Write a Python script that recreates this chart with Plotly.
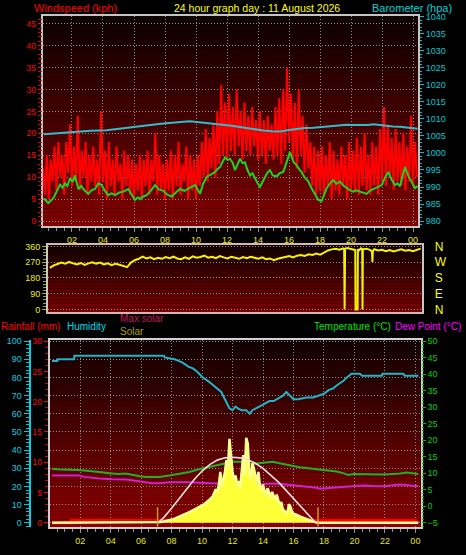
import pandas as pd
import plotly.graph_objects as go

BASE = pd.Timestamp("2026-08-11 00:00")


def at(hours):
    return [BASE + pd.Timedelta(hours=h) for h in hours]


title_text = "24 hour graph day : 11 August 2026"

# ---------------- wind gust (kph), one reading every 7.5 minutes ----------------
gust_start_hour = 0.125
gust_step_hour = 0.125
wind_gust_kph = [
    12, 6, 15, 5, 14, 9, 17, 7, 18, 10, 15, 6, 18, 11, 22, 8,
    17, 9, 24, 7, 16, 10, 18, 6, 15, 9, 17, 8, 14, 6, 25, 9,
    16, 5, 18, 8, 14, 6, 17, 9, 13, 5, 16, 8, 15, 6, 14, 5,
    13, 7, 15, 5, 14, 8, 16, 6, 14, 9, 20, 6, 15, 7, 13, 5,
    14, 7, 16, 5, 15, 8, 18, 6, 13, 9, 17, 5, 15, 7, 14, 5,
    15, 8, 18, 10, 21, 9, 19, 12, 22, 10, 25, 13, 31, 15, 27, 14,
    29, 16, 26, 15, 30, 17, 25, 14, 27, 16, 24, 15, 26, 17, 23, 14,
    25, 15, 23, 13, 24, 16, 22, 14, 26, 15, 28, 13, 30, 16, 35, 18,
    29, 14, 27, 12, 30, 15, 24, 11, 22, 12, 18, 8, 17, 6, 16, 7,
    17, 6, 15, 8, 18, 5, 16, 7, 14, 6, 17, 8, 15, 5, 18, 7,
    16, 7, 19, 6, 17, 8, 20, 7, 15, 6, 18, 8, 17, 6, 21, 9,
    26, 8, 22, 10, 19, 7, 21, 9, 18, 8, 20, 7, 17, 9, 24, 8,
    18, 10,
]
gust_hours = [gust_start_hour + i * gust_step_hour for i in range(len(wind_gust_kph))]

# ---------------- average wind speed (kph) ----------------
avg_wind_hours = [
    0.19, 0.47, 0.8, 1.0, 1.23, 1.4, 1.55, 1.7, 1.87, 2.05, 2.19, 2.41, 2.6, 2.73, 2.9, 3.05,
    3.25, 3.48, 3.7, 3.91, 4.1, 4.34, 4.55, 4.77, 5.05, 5.31, 5.63, 5.85, 6.06, 6.25, 6.39, 6.6,
    6.82, 7.1, 7.35, 7.6, 7.89, 8.15, 8.43, 8.7, 8.97, 9.25, 9.5, 9.7, 9.94, 10.1, 10.26, 10.45,
    10.69, 10.95, 11.23, 11.4, 11.55, 11.7, 11.87, 12.05, 12.19, 12.35, 12.52, 12.7, 12.84, 13.0,
    13.16, 13.3, 13.48, 13.65, 13.81, 13.97, 14.13, 14.3, 14.45, 14.6, 14.77, 14.95, 15.2, 15.4,
    15.63, 15.85, 16.06, 16.3, 16.5, 16.65, 16.8, 17.0, 17.25, 17.4, 17.57, 17.75, 17.89, 18.1,
    18.25, 18.43, 18.65, 18.86, 19.05, 19.29, 19.5, 19.72, 19.95, 20.15, 20.35, 20.58, 20.8,
    21.01, 21.2, 21.44, 21.7, 21.98, 22.2, 22.41, 22.6, 22.84, 23.0, 23.16, 23.3, 23.48, 23.7,
    23.92, 24.13, 24.3,
]
avg_wind_kph = [
    5.2, 4.1, 5.2, 6.8, 8.3, 7.6, 8.6, 8.0, 9.7, 8.9, 10.4, 7.3, 8.0, 7.3, 6.6, 6.2,
    7.0, 7.3, 8.6, 8.2, 7.0, 5.9, 6.3, 5.9, 6.5, 6.7, 7.3, 6.0, 4.8, 5.4, 5.0, 5.6,
    5.9, 7.0, 8.2, 7.2, 6.9, 6.0, 5.6, 6.5, 7.3, 6.9, 7.3, 7.8, 8.2, 7.0, 6.2, 8.4,
    10.1, 10.6, 11.2, 11.9, 12.3, 13.4, 14.5, 13.9, 14.2, 13.4, 11.6, 13.1, 14.2, 13.2,
    13.4, 11.8, 10.4, 10.9, 9.7, 8.6, 7.8, 9.2, 10.0, 11.0, 11.6, 10.4, 10.2, 10.9,
    11.2, 13.5, 15.7, 13.4, 12.7, 11.8, 11.2, 10.0, 9.0, 7.8, 6.7, 5.6, 4.8, 4.5,
    6.0, 7.5, 8.6, 9.3, 8.5, 9.0, 8.1, 7.5, 7.0, 6.7, 7.0, 6.7, 6.4,
    6.2, 6.9, 7.3, 7.8, 8.2, 10.0, 11.2, 9.5, 8.2, 8.6, 7.9, 10.0, 12.3, 10.3,
    8.9, 7.5, 8.0,
]

# ---------------- barometer (hPa) ----------------
baro_hours = [
    0.19, 1.0, 2.09, 3.2, 4.24, 5.1, 5.96, 6.7, 7.46, 8.1, 8.75, 9.2, 9.61, 10.2, 10.69,
    11.2, 11.76, 12.3, 12.84, 13.27, 13.8, 14.34, 14.9, 15.42, 15.9, 16.5, 17.0, 17.57,
    18.1, 18.65, 19.2, 19.72, 20.3, 20.8, 21.1, 21.44, 21.9, 22.3, 22.7, 23.16, 23.6, 24.13, 24.3,
]
baro_hpa = [
    1005.5, 1005.8, 1006.3, 1006.5, 1006.7, 1007.2, 1007.7, 1008.0, 1008.4, 1008.7, 1009.1,
    1009.2, 1009.3, 1009.0, 1008.8, 1008.6, 1008.4, 1008.0, 1007.6, 1007.3, 1006.9, 1006.6,
    1006.4, 1006.3, 1006.7, 1007.1, 1007.3, 1007.4, 1007.6, 1007.9, 1008.1, 1008.3, 1008.2,
    1008.1, 1008.2, 1008.4, 1008.1, 1007.9, 1007.8, 1007.7, 1007.4, 1007.1, 1007.1,
]

# ---------------- wind direction (degrees) ----------------
dir_hours = [
    0.25, 0.5, 0.75, 1.0, 1.25, 1.5, 1.75, 2.0, 2.25, 2.5, 2.75, 3.0, 3.25, 3.5, 3.75, 4.0,
    4.25, 4.5, 4.75, 5.0, 5.25, 5.5, 5.75, 6.0, 6.25, 6.5, 6.75, 7.0, 7.25, 7.5, 7.75, 8.0,
    8.25, 8.5, 8.75, 9.0, 9.25, 9.5, 9.75, 10.0, 10.25, 10.5, 10.75, 11.0, 11.25, 11.5, 11.75,
    12.0, 12.25, 12.5, 12.75, 13.0, 13.25, 13.5, 13.75, 14.0, 14.25, 14.5, 14.75, 15.0, 15.25,
    15.5, 15.75, 16.0, 16.25, 16.5, 16.75, 17.0, 17.25, 17.5, 17.75, 18.0, 18.25, 18.5, 18.75,
    19.0, 19.25, 19.30, 19.33, 19.36, 19.5, 19.75, 20.02, 20.04, 20.17, 20.19, 20.25, 20.4,
    20.47, 20.49, 20.51, 20.75, 21.0, 21.1, 21.13, 21.16, 21.25, 21.5, 21.75, 22.0, 22.25,
    22.5, 22.75, 23.0, 23.25, 23.5, 23.75, 24.0, 24.25,
]
dir_deg = [
    238, 252, 260, 268, 262, 272, 264, 258, 266, 255, 264, 270, 262, 268, 258, 264,
    254, 262, 256, 250, 242, 268, 282, 290, 302, 292, 298, 288, 296, 290, 300, 294,
    302, 292, 288, 298, 290, 304, 296, 300, 308, 296, 302, 294, 306, 298, 292,
    302, 296, 290, 300, 294, 302, 296, 290, 298, 288, 292, 282, 290, 296,
    300, 306, 298, 308, 312, 306, 316, 312, 320, 314, 326, 338, 344, 348,
    342, 350, 346, 0, 348, 352, 346, 340, 0, 0, 345, 338, 350,
    346, 0, 344, 348, 340, 330, 272, 335, 345, 338, 342, 334, 340,
    332, 338, 344, 336, 340, 334, 342, 348,
]
compass_deg = [0, 90, 180, 270, 360]
compass_text = ["N", "E", "S", "W", "N"]

# ---------------- humidity (%) ----------------
hum_hours = [
    0.15, 0.5, 0.52, 1.6, 1.62, 7.5, 7.55, 8.2, 8.5, 8.75, 9.1, 9.4, 9.7, 10.05, 10.4, 10.7,
    11.0, 11.26, 11.5, 11.8, 12.0, 12.2, 12.35, 12.6, 12.9, 13.12, 13.3, 13.56, 13.8, 14.0,
    14.2, 14.43, 14.7, 14.88, 15.1, 15.31, 15.53, 15.75, 16.0, 16.3, 16.85, 17.3, 17.72, 18.0,
    18.3, 18.6, 18.9, 19.26, 19.5, 19.81, 20.36, 20.5, 21.8, 21.85, 23.2, 23.3, 24.2,
]
hum_pct = [
    89, 89, 90, 90, 92, 92, 91, 90, 89, 88, 86, 85, 83, 80, 78, 76,
    74, 72, 68, 63, 62, 64, 63, 62, 62, 60, 62, 63, 64, 65,
    66, 67, 67, 68, 69, 70, 72, 70, 68, 68, 69, 69, 70, 71,
    73, 74, 76, 78, 80, 82, 82, 81, 81, 82, 82, 81, 81,
]

# ---------------- temperature & dew point (deg C) ----------------
temp_hours = [
    0.15, 0.8, 1.93, 2.5, 2.92, 3.4, 3.91, 4.5, 5.0, 5.44, 5.9, 6.32, 7.2, 7.86, 8.5, 9.17,
    9.8, 10.49, 11.0, 11.36, 11.7, 12.02, 12.4, 12.68, 13.0, 13.34, 13.7, 13.99, 14.3, 14.65,
    15.0, 15.31, 15.8, 16.19, 16.41, 17.0, 17.51, 17.72, 18.2, 18.6, 18.82, 19.26, 19.6, 19.91,
    20.5, 21.2, 21.89, 22.5, 23.0, 23.43, 23.8, 24.19,
]
temp_c = [
    11.4, 11.1, 11.0, 10.8, 10.5, 10.3, 10.0, 9.8, 9.9, 9.4, 9.1, 8.9, 8.9, 9.3, 9.8, 10.4,
    11.2, 12.0, 12.4, 12.8, 13.2, 13.5, 13.4, 13.5, 13.0, 12.8, 13.0, 13.2, 13.3, 13.5,
    13.1, 12.8, 12.4, 12.0, 11.8, 11.5, 11.2, 11.05, 10.8, 10.7, 10.5, 10.05, 9.5, 9.75,
    9.7, 9.6, 9.6, 9.8, 9.9, 10.25, 10.0, 9.8,
]
dew_hours = [
    0.15, 1.93, 2.26, 3.25, 4.11, 5.0, 5.5, 5.88, 6.74, 7.2, 7.86, 9.17, 10.49, 11.2, 11.8,
    12.3, 12.9, 13.3, 13.78, 14.3, 14.88, 15.5, 16.19, 16.8, 17.51, 17.72, 18.2, 18.6, 19.2,
    19.7, 20.3, 20.8, 21.3, 21.89, 22.5, 23.0, 23.5, 24.19,
]
dew_c = [
    9.3, 9.3, 8.9, 8.4, 8.2, 8.1, 7.8, 7.5, 7.0, 7.0, 7.3, 7.3, 7.1, 6.8, 6.3,
    6.6, 6.1, 6.4, 6.6, 6.8, 6.9, 6.6, 6.3, 5.9, 5.6, 5.3, 5.5, 5.6, 5.8,
    6.1, 6.2, 6.3, 6.1, 6.1, 6.4, 6.6, 6.4, 6.1,
]

# ---------------- rainfall (mm) ----------------
rain_hours = [0.15, 1.38, 1.42, 24.1]
rain_mm = [0.0, 0.0, 0.4, 0.4]

# ---------------- solar radiation (W/m2) ----------------
solar_night_hours = [0.15, 24.2]
solar_start_hour = 7.0
solar_step_hour = 0.1
solar_wm2 = [
    0, 2, 5, 8, 12, 15, 18, 22, 26, 30,
    35, 40, 45, 52, 58, 65, 72, 80, 88, 95,
    105, 112, 120, 130, 138, 146, 155, 162, 170, 180,
    190, 200, 212, 225, 240, 258, 275, 290, 330, 370,
    340, 420, 560, 400, 480, 560, 690, 600, 925, 720,
    560, 480, 520, 420, 460, 380, 560, 745, 520, 935,
    870, 560, 480, 655, 600, 520, 440, 560, 400, 360,
    420, 350, 300, 380, 330, 280, 340, 300, 250, 310,
    260, 190, 230, 150, 130, 120, 110, 205, 180, 120,
    100, 95, 90, 80, 72, 65, 58, 50, 42, 36,
    30, 24, 18, 12, 8, 4, 0,
]
solar_day_hours = [solar_start_hour + i * solar_step_hour for i in range(len(solar_wm2))]
solar_hours = [solar_night_hours[0]] + solar_day_hours + [solar_night_hours[1]]
solar_all = [0] + solar_wm2 + [0]

max_solar_hours = [7.1, 7.5, 8.0, 8.5, 9.0, 9.5, 10.0, 10.5, 11.0, 11.5, 12.0, 12.5, 13.0,
                   13.5, 14.0, 14.5, 15.0, 15.5, 16.0, 16.5, 17.0, 17.4, 17.6]
max_solar_wm2 = [0, 60, 160, 270, 380, 480, 570, 640, 690, 715, 722, 715, 695,
                 655, 600, 530, 450, 360, 265, 170, 75, 10, 0]

sun_event_hours = [7.08, 17.61]

# ---------------- styling ----------------
W, H = 466, 555
TICK_FONT = "Liberation Sans Narrow, Liberation Sans, Arial, sans-serif"
LABEL_FONT = "Liberation Sans, Arial, sans-serif"
GRID = dict(showgrid=True, gridcolor="#8c8c8c", gridwidth=1, griddash="1px,2px")
NOGRID = dict(showgrid=False)
HOUR_MS = 3600000


def px_x(p):
    return p / W


def px_y(p):
    return 1 - p / H


fig = go.Figure()

# panel 1: wind & barometer
fig.add_trace(go.Scatter(x=at(gust_hours), y=wind_gust_kph, mode="lines",
                         line=dict(color="#ff0000", width=2), xaxis="x", yaxis="y"))
fig.add_trace(go.Scatter(x=at(avg_wind_hours), y=avg_wind_kph, mode="lines",
                         line=dict(color="#1ed21e", width=2), xaxis="x", yaxis="y"))
fig.add_trace(go.Scatter(x=at(baro_hours), y=baro_hpa, mode="lines",
                         line=dict(color="#30bcc8", width=2), xaxis="x", yaxis="y2"))

# panel 2: wind direction
fig.add_trace(go.Scatter(x=at(dir_hours), y=dir_deg, mode="lines",
                         line=dict(color="#f4f400", width=2), xaxis="x2", yaxis="y3"))
fig.add_trace(go.Scatter(x=at(dir_hours), y=dir_deg, mode="lines", opacity=0,
                         line=dict(width=0), hoverinfo="skip", xaxis="x2", yaxis="y4"))

# panel 3
fig.add_trace(go.Scatter(x=at(solar_hours), y=solar_all, mode="lines", fill="tozeroy",
                         fillcolor="#ffff38", line=dict(color="#ffff90", width=2.5),
                         xaxis="x3", yaxis="y8"))
sun_x, sun_y = [], []
for h in sun_event_hours:
    sun_x += [BASE + pd.Timedelta(hours=h), BASE + pd.Timedelta(hours=h), None]
    sun_y += [-40, 170, None]
fig.add_trace(go.Scatter(x=sun_x, y=sun_y, mode="lines", line=dict(color="#c89a10", width=1.5),
                         xaxis="x3", yaxis="y8"))
fig.add_trace(go.Scatter(x=at(max_solar_hours), y=max_solar_wm2, mode="lines",
                         line=dict(color="#f4dcdc", width=1.6), xaxis="x3", yaxis="y8"))
fig.add_trace(go.Scatter(x=at(rain_hours), y=rain_mm, mode="lines",
                         line=dict(color="#ff0000", width=3), xaxis="x3", yaxis="y6"))
fig.add_trace(go.Scatter(x=at(hum_hours), y=hum_pct, mode="lines",
                         line=dict(color="#20b4c8", width=2), xaxis="x3", yaxis="y5"))
fig.add_trace(go.Scatter(x=at(temp_hours), y=temp_c, mode="lines",
                         line=dict(color="#20b020", width=2), xaxis="x3", yaxis="y7"))
fig.add_trace(go.Scatter(x=at(dew_hours), y=dew_c, mode="lines",
                         line=dict(color="#d020d0", width=2), xaxis="x3", yaxis="y7"))

# gradient backgrounds
shapes = []


def gradient(xref, yref, top, bot, n=48):
    for i in range(n):
        f = i / (n - 1)
        c = tuple(int(round(top[k] + (bot[k] - top[k]) * f)) for k in range(3))
        shapes.append(dict(type="rect", xref=xref, yref=yref, x0=0, x1=1,
                           y0=1 - (i + 1) / n, y1=1 - i / n, layer="below",
                           fillcolor="rgb(%d,%d,%d)" % c, line=dict(width=0)))


gradient("x domain", "y domain", (14, 0, 0), (128, 0, 0))
gradient("x2 domain", "y3 domain", (18, 0, 0), (128, 0, 0))
gradient("x3 domain", "y5 domain", (18, 0, 0), (140, 0, 0))

xtick_common = dict(type="date", tickformat="%H", tick0="2026-08-11", dtick=2 * HOUR_MS,
                    ticks="outside", ticklen=4, tickcolor="#909090",
                    minor=dict(dtick=HOUR_MS / 2, ticks="outside", ticklen=3,
                               tickcolor="#909090", showgrid=False),
                    tickfont=dict(family=TICK_FONT, size=9, color="#e8e800"),
                    zeroline=False)

layout = dict(
    width=W, height=H, margin=dict(l=0, r=0, t=0, b=0),
    paper_bgcolor="black", plot_bgcolor="black", showlegend=False,
    shapes=shapes,
    xaxis=dict(domain=[px_x(43), px_x(418)], anchor="y", range=at([0.13, 24.32]),
               showline=True, linecolor="#c4c4c4", linewidth=2, mirror=True,
               **GRID, **xtick_common),
    yaxis=dict(domain=[px_y(225), px_y(11)], anchor="x", range=[-1.12, 46.79],
               tick0=0, dtick=5, ticks="outside", ticklen=4, tickcolor="#ff0000",
               minor=dict(dtick=1, ticks="outside", ticklen=4, tickcolor="#d00000"),
               tickfont=dict(family=TICK_FONT, size=9, color="#ff0000"),
               zeroline=False, showline=False, **GRID),
    yaxis2=dict(overlaying="y", side="right", anchor="x", range=[978.56, 1040.29],
                tick0=980, dtick=5, ticks="outside", ticklen=4, tickcolor="#00c0c8",
                minor=dict(dtick=1, ticks="outside", ticklen=2, tickcolor="#00c0c8"),
                tickfont=dict(family=TICK_FONT, size=9, color="#00c8d0"),
                showline=True, linecolor="#c4c4c4", linewidth=2, mirror=True,
                zeroline=False, **NOGRID),
    xaxis2=dict(domain=[px_x(48), px_x(421.7)], anchor="y3", type="date",
                range=at([0.13, 24.32]), showticklabels=False, ticks="",
                showline=True, linecolor="#d8b4b4", linewidth=2, mirror=True,
                zeroline=False, **NOGRID),
    yaxis3=dict(domain=[px_y(312.7), px_y(244.3)], anchor="x2", range=[-15.2, 369.6],
                tick0=0, dtick=90, ticks="outside", ticklen=4, tickcolor="#b0b000",
                minor=dict(dtick=18, ticks="outside", ticklen=3, tickcolor="#a0a000"),
                tickfont=dict(family=TICK_FONT, size=9, color="#ecec00"),
                showline=True, linecolor="#c8c8c8", linewidth=2, mirror=True,
                zeroline=False, **GRID),
    yaxis4=dict(overlaying="y3", side="right", anchor="x2", range=[-15.2, 369.6],
                tickmode="array", tickvals=compass_deg, ticktext=compass_text,
                ticks="", ticklabelstandoff=12,
                tickfont=dict(family=LABEL_FONT, size=12, color="#ffff00"),
                showline=False, zeroline=False, **NOGRID),
    xaxis3=dict(domain=[px_x(50), px_x(420.7)], anchor="y6", range=at([0.02, 24.35]),
                showline=True, linecolor="#d0d0d0", linewidth=2, mirror=True,
                **GRID, **xtick_common),
    yaxis5=dict(domain=[px_y(531.7), px_y(340.7)], anchor="free", position=px_x(29.5),
                side="left", range=[-2.38, 100.86], tick0=0, dtick=10,
                ticks="outside", ticklen=5, tickcolor="#00c8d8",
                minor=dict(dtick=2, ticks="outside", ticklen=3, tickcolor="#00c8d8"),
                tickfont=dict(family=TICK_FONT, size=9, color="#00d0e0"),
                showline=True, linecolor="#00d0e0", linewidth=2, zeroline=False, **GRID),
    yaxis6=dict(overlaying="y5", anchor="x3", side="left", range=[-0.71, 30.26],
                tick0=0, dtick=5, ticks="outside", ticklen=4, tickcolor="#ff0000",
                minor=dict(dtick=1, ticks="outside", ticklen=3, tickcolor="#d00000"),
                tickfont=dict(family=TICK_FONT, size=9, color="#ff0000"),
                showline=True, linecolor="#d0d0d0", linewidth=2, mirror=True,
                zeroline=False, **NOGRID),
    yaxis7=dict(overlaying="y5", anchor="x3", side="right", range=[-6.31, 50.48],
                tick0=0, dtick=5, ticks="outside", ticklen=4, tickcolor="#00c000",
                minor=dict(dtick=1, ticks="outside", ticklen=2, tickcolor="#00b000"),
                tickfont=dict(family=TICK_FONT, size=9, color="#00d000"),
                showline=False, zeroline=False, **NOGRID),
    yaxis8=dict(overlaying="y5", anchor="x3", range=[-47.6, 2017], visible=False),
)
fig.update_layout(**layout)


def label(text, x, y, color, size=11, anchor="left", yanchor="middle", yshift=0):
    fig.add_annotation(text=text, xref="paper", yref="paper", x=px_x(x), y=px_y(y),
                       xanchor=anchor, yanchor=yanchor, showarrow=False, borderpad=0,
                       yshift=yshift,
                       font=dict(family=LABEL_FONT, size=size, color=color))


label("Windspeed (kph)", 33, 0, "#ff0000", yanchor="top", yshift=4)
label(title_text, 257, 0, "#ffff00", size=10.5, anchor="center", yanchor="top", yshift=4)
label("Barometer (hpa)", 371, 0, "#00d0d8", yanchor="top", yshift=4)
label("Rainfall (mm)", 0, 327, "#ff0000", size=10)
label("Humidity", 66, 327, "#00d8e8", size=10)
label("Max solar", 119, 319.5, "#c8145a", size=10)
label("Solar", 119, 332, "#a8a000", size=10)
label("Temperature (°C)", 313, 327, "#00e000", size=10)
label("Dew Point (°C)", 394, 327, "#ff00ff", size=10)

fig.write_html(
    "out.html",
    config={"displayModeBar": False},
    post_script="document.body.style.margin='0';document.body.style.padding='0';"
                "document.documentElement.style.overflow='hidden';",
)
